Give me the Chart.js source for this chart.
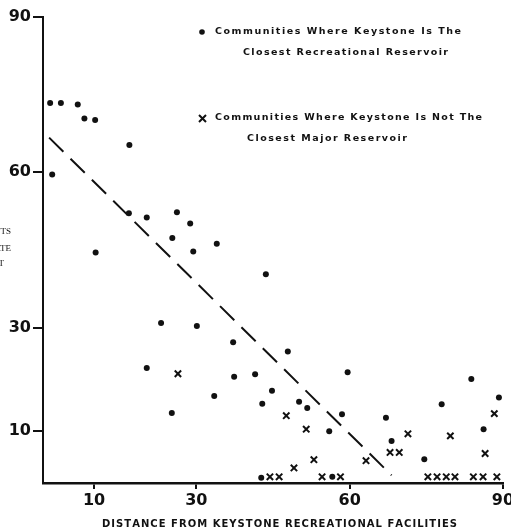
<!DOCTYPE html>
<html>
<head>
<meta charset="utf-8">
<script src="https://cdn.jsdelivr.net/npm/chart.js@4/dist/chart.umd.min.js"></script>
<style>
html,body{margin:0;padding:0;background:#fff;overflow:hidden;width:511px;height:531px;}
canvas{display:block;}
</style>
</head>
<body>
<canvas id="c" width="540" height="531" style="width:540px;height:531px"></canvas>
<script>
// Communities where Keystone is the closest recreational reservoir (dots)
const closestX = [1.4,3.5,6.8,8.1,10.2,1.8,16.9,10.3,16.8,20.3,26.2,28.8,25.3,29.4,34.0,43.6,23.1,30.1,37.2,47.9,37.4,41.5,59.6,20.3,33.5,25.2,44.8,42.9,50.1,51.7,58.5,56.0,42.7,56.6,67.1,68.2,74.6,78.0,83.8,89.2,86.2];
const closestY = [73.4,73.4,73.1,70.4,70.1,59.6,65.3,44.5,52.1,51.3,52.3,50.1,47.3,44.7,46.2,40.3,30.9,30.3,27.2,25.4,20.5,21.0,21.4,22.2,16.8,13.5,17.8,15.3,15.7,14.5,13.3,10.0,1.0,1.2,12.6,8.1,4.6,15.2,20.1,16.5,10.4];
// Communities where Keystone is not the closest major reservoir (x marks)
const notClosestX = [26.4,47.6,51.5,53.0,49.1,44.4,46.2,54.6,58.2,63.2,67.9,69.7,71.4,79.7,88.3,86.5,75.3,77.1,78.9,80.6,84.2,86.1,88.8];
const notClosestY = [21.1,13.0,10.4,4.5,2.9,1.2,1.2,1.2,1.2,4.3,5.9,5.9,9.5,9.1,13.4,5.7,1.2,1.2,1.2,1.2,1.2,1.2,1.2];
// Dashed regression line end points
const trendX = [1.2,68.2];
const trendY = [66.7,1.5];
// Tick labels
const xTicks = [10,30,60,90];
const yTicks = [10,30,60,90];
const xTitle = "DISTANCE FROM KEYSTONE RECREATIONAL FACILITIES";
const yTitleLines = ["PERCENT OF RESIDENTS","PARTICIPATION RATE","VISIT"];
const legendLines = [
  "Communities Where Keystone Is The",
  "Closest Recreational Reservoir",
  "Communities Where Keystone Is Not The",
  "Closest Major Reservoir"
];

const toPts = (xs, ys) => xs.map((x, i) => ({x: x, y: ys[i]}));

function spacedText(ctx, text, x, y, target) {
  const widths = [...text].map(ch => ctx.measureText(ch).width);
  const sum = widths.reduce((a, b) => a + b, 0);
  const extra = text.length > 1 ? (target - sum) / (text.length - 1) : 0;
  let cx = x;
  [...text].forEach((ch, i) => { ctx.fillText(ch, cx, y); cx += widths[i] + extra; });
}

const annot = {
  id: 'annot',
  afterDraw(chart) {
    const ctx = chart.ctx;
    ctx.save();
    ctx.fillStyle = '#111';
    ctx.strokeStyle = '#111';
    ctx.textBaseline = 'middle';
    ctx.textAlign = 'left';
    // legend
    ctx.beginPath(); ctx.arc(202, 32, 2.8, 0, Math.PI * 2); ctx.fill();
    ctx.lineWidth = 2;
    ctx.beginPath();
    ctx.moveTo(199, 115); ctx.lineTo(206, 122);
    ctx.moveTo(206, 115); ctx.lineTo(199, 122);
    ctx.stroke();
    ctx.font = "bold 9.5px 'DejaVu Sans'";
    spacedText(ctx, legendLines[0], 215, 32, 246);
    spacedText(ctx, legendLines[1], 243, 53, 205);
    spacedText(ctx, legendLines[2], 215, 118, 267);
    spacedText(ctx, legendLines[3], 247, 139, 160);
    // x title
    ctx.font = "bold 10px 'DejaVu Sans'";
    spacedText(ctx, xTitle, 102, 524, 355);
    // y title (mostly outside the picture)
    ctx.font = "9px 'Liberation Serif'";
    ctx.textAlign = 'right';
    ctx.fillText(yTitleLines[0], 11, 232);
    ctx.fillText(yTitleLines[1], 11, 249);
    ctx.fillText(yTitleLines[2], 4, 264);
    ctx.restore();
  }
};

new Chart(document.getElementById('c'), {
  type: 'scatter',
  data: {
    datasets: [
      {
        label: legendLines[0],
        data: toPts(closestX, closestY),
        pointStyle: 'circle',
        pointRadius: 3,
        backgroundColor: '#111',
        borderColor: '#111',
        borderWidth: 0
      },
      {
        label: legendLines[2],
        data: toPts(notClosestX, notClosestY),
        pointStyle: 'crossRot',
        pointRadius: 4.5,
        borderColor: '#111',
        borderWidth: 2
      },
      {
        label: 'trend',
        type: 'line',
        data: toPts(trendX, trendY),
        borderColor: '#111',
        borderWidth: 2,
        borderDash: [20, 10],
        pointRadius: 0,
        fill: false
      }
    ]
  },
  options: {
    responsive: false,
    animation: false,
    layout: { padding: { left: 0, right: 37, top: 17, bottom: 0 } },
    plugins: { legend: { display: false }, tooltip: { enabled: false } },
    scales: {
      x: {
        type: 'linear',
        min: 0, max: 90,
        afterBuildTicks: s => { s.ticks = xTicks.map(v => ({value: v})); },
        afterFit: s => { s.height = 48; },
        border: { display: true, color: '#111', width: 2.5 },
        grid: { drawOnChartArea: false, drawTicks: true, tickLength: 6, color: '#111', lineWidth: 2 },
        ticks: { color: '#111', font: { family: "'DejaVu Sans'", size: 16, weight: 'bold' }, padding: 2, maxRotation: 0, autoSkip: false }
      },
      y: {
        type: 'linear',
        min: 0, max: 90,
        afterBuildTicks: s => { s.ticks = yTicks.map(v => ({value: v})); },
        afterFit: s => { s.width = 43; },
        border: { display: true, color: '#111', width: 2 },
        grid: { drawOnChartArea: false, drawTicks: true, tickLength: 10, color: '#111', lineWidth: 2 },
        ticks: { color: '#111', font: { family: "'DejaVu Sans'", size: 16, weight: 'bold' }, padding: 2, autoSkip: false }
      }
    }
  },
  plugins: [annot]
});
</script>
</body>
</html>
